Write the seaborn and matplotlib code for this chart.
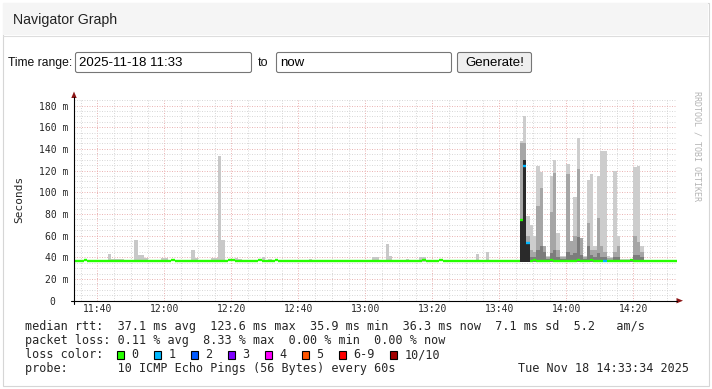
import numpy as np
import pandas as pd
import matplotlib
matplotlib.use("Agg")
import matplotlib.pyplot as plt
import seaborn as sns
from matplotlib.patches import Rectangle, FancyBboxPatch, Polygon

# ---------------- data ----------------
x_tick_pos = [7, 27, 47, 67, 87, 107, 127, 147, 167]          # minutes after 11:33
x_tick_labels = ["11:40", "12:00", "12:20", "12:40", "13:00",
                 "13:20", "13:40", "14:00", "14:20"]
y_tick_vals = [0, 20, 40, 60, 80, 100, 120, 140, 160, 180]   # ms
y_tick_labels = ["0  ", "20 m", "40 m", "60 m", "80 m", "100 m",
                 "120 m", "140 m", "160 m", "180 m"]

n_steps = 180                     # one step per minute, 11:33 .. 14:33
median_base = 36.6                # ms, flat median rtt
median_bump_steps = [3, 29, 46, 47, 55, 60, 104, 109, 137, 142, 150, 154, 166]
median_bump_vals = [37.8, 37.8, 37.8, 37.6, 37.8, 37.8, 37.6, 37.8,
                    37.8, 37.8, 37.6, 37.8, 37.8]
median_spike_steps = [133, 134, 135]
median_spike_vals = [74.0, 124.0, 53.0]
loss1_steps = [134, 135, 158]     # steps with 1/10 packet loss

smoke_min = 36.0
left_steps = [10, 11, 12, 13, 14, 18, 19, 20, 21, 26, 27, 35, 36, 41, 42,
              43, 44, 48, 49, 56, 58, 70, 89, 90, 93, 94, 99, 103, 104, 120, 123]
left_max = [43, 38.8, 38.8, 38.8, 38.8, 56, 42, 42, 39, 39, 39, 46.8, 39, 39, 39,
            133, 56, 39, 38.8, 40, 38.5, 38.5, 40, 40, 52.6, 41, 38.5, 40, 40, 43, 45]

dense_steps = list(range(133, 170))
dense_light = [147, 170, 78, 70, 60, 124, 119, 50, 41, 115, 130, 62, 41, 41, 126,
               55, 96, 150, 58, 41, 111, 117, 50, 115, 138, 138, 41, 40, 120, 60,
               38, 38, 38, 38, 123, 124, 50]
dense_mid = [145, 145, 60, 47, 45, 87, 104, 50, 40, 82, 118, 47, 40, 40, 117,
             55, 60, 121, 58, 40, 72, 47, 47, 76, 50, 45, 39, 39, 45, 50,
             37, 37, 37, 37, 60, 54, 45]
dense_dark = [74, 124, 53, 40, 40, 47, 50, 45, 38, 44, 47, 40, 38, 38, 45,
              42, 44, 59, 42, 38, 50, 42, 40, 44, 40, 40, 37, 37, 40, 40,
              37, 37, 37, 37, 42, 42, 40]
core_steps = [133, 134, 135]
core_vals = [74, 130, 53]

loss_labels = ["0", "1", "2", "3", "4", "5", "6-9", "10/10"]
loss_colors = ["#26ff00", "#00b8ff", "#0059ff", "#7e00ff", "#ff00ff",
               "#ff5500", "#ff0000", "#a10000"]

legend_lines = [
    "median rtt:  37.1 ms avg  123.6 ms max  35.9 ms min  36.3 ms now  7.1 ms sd  5.2   am/s",
    "packet loss: 0.11 % avg  8.33 % max  0.00 % min  0.00 % now",
    "loss color:",
    "probe:       10 ICMP Echo Pings (56 Bytes) every 60s",
]
stamp = "Tue Nov 18 14:33:34 2025"

# ---------------- style ----------------
sns.set_style("white")
plt.rcParams["font.family"] = ["DejaVu Sans Mono", "DejaVu Sans"]
MONO = "DejaVu Sans Mono"
SANS = ["Liberation Sans", "DejaVu Sans"]

W, H = 712, 389
fig = plt.figure(figsize=(W / 100, H / 100), dpi=100)
fig.patch.set_facecolor("white")

# page background (pixel coordinates)
bg = fig.add_axes([0, 0, 1, 1], zorder=0)
bg.set_xlim(0, W); bg.set_ylim(H, 0); bg.axis("off")
bg.add_patch(Rectangle((2.5, 2.5), 706, 383, facecolor="white", edgecolor="#d6d6d6", lw=0.8))
bg.add_patch(Rectangle((3, 3), 705, 32, facecolor="#f5f5f5", edgecolor="none"))
bg.plot([3, 708], [35.5, 35.5], color="#dddddd", lw=0.8)
bg.text(13, 19.5, "Navigator Graph", fontsize=10.2, family=SANS, va="center", color="#222222")
bg.text(8, 62.5, "Time range:", fontsize=8.7, family=SANS, va="center", color="#111111")
for (x0, x1) in [(75, 252), (276, 452)]:
    bg.add_patch(FancyBboxPatch((x0 + 0.5, 52.5), x1 - x0 - 1, 20, boxstyle="round,pad=0,rounding_size=2",
                                facecolor="white", edgecolor="#767676", lw=0.8))
bg.text(79, 62.5, "2025-11-18 11:33", fontsize=9.5, family=SANS, va="center", color="#000000")
bg.text(258, 62.5, "to", fontsize=9.0, family=SANS, va="center", color="#111111")
bg.text(280, 62.5, "now", fontsize=9.5, family=SANS, va="center", color="#000000")
bg.add_patch(FancyBboxPatch((457.5, 52.5), 74, 20, boxstyle="round,pad=0,rounding_size=2",
                            facecolor="#efefef", edgecolor="#767676", lw=0.8))
bg.text(494.5, 62.5, "Generate!", fontsize=9.5, family=SANS, va="center", ha="center", color="#000000")

bg.text(19, 199, "Seconds", rotation=90, fontsize=8.0, family=MONO, va="center", ha="center")
bg.text(697, 91, "RRDTOOL / TOBI OETIKER", rotation=270, fontsize=6.0, family=MONO,
        va="top", ha="center", color="#b4b4b4")

leg_y = [326.5, 340.5, 354.5, 368.7]
for txt, yy in zip(legend_lines, leg_y):
    bg.text(25, yy, txt, fontsize=8.5, family=MONO, va="center")
bg.text(689, leg_y[3], stamp, fontsize=8.5, family=MONO, va="center", ha="right")
box_x = [117 + 37 * i for i in range(7)] + [390]
for bx, lab, col in zip(box_x, loss_labels, loss_colors):
    bg.add_patch(Rectangle((bx, leg_y[2] - 4), 7, 8, facecolor=col, edgecolor="black", lw=0.8))
    bg.text(bx + 14.5, leg_y[2], lab, fontsize=8.5, family=MONO, va="center")

# ---------------- the graph ----------------
ax = fig.add_axes([74 / W, (H - 300.7) / H, 603 / W, 201.7 / H], zorder=2)
ax.set_facecolor("white")
ax.set_xlim(0, n_steps)
ax.set_ylim(0, 186)
for s in ax.spines.values():
    s.set_visible(False)

# smoke: isolated spikes
lb = np.array(left_steps)
lm = np.array(left_max, dtype=float)
ax.bar(lb, lm - smoke_min, bottom=smoke_min, width=1, align="edge", color="#c8c8c8", lw=0)
# smoke: busy period, shades from outer (light) to inner (dark)
ds = np.array(dense_steps)
for vals, col in [(dense_light, "#cdcdcd"), (dense_mid, "#a6a6a6"), (dense_dark, "#7c7c7c")]:
    v = np.array(vals, dtype=float)
    ax.bar(ds, v - smoke_min, bottom=smoke_min, width=1, align="edge", color=col, lw=0)
cv = np.array(core_vals, dtype=float)
ax.bar(np.array(core_steps), cv - smoke_min, bottom=smoke_min, width=1, align="edge",
       color="#2a2a2a", lw=0)

# median line coloured by loss
steps = np.arange(n_steps)
median = np.full(n_steps, median_base)
median[median_bump_steps] = median_bump_vals
median[median_spike_steps] = median_spike_vals
loss = np.zeros(n_steps, dtype=int)
loss[loss1_steps] = 1
seg = pd.DataFrame({
    "x": np.concatenate([steps, steps + 1]),
    "y": np.concatenate([median, median]),
    "loss": np.concatenate([loss, loss]),
    "step": np.concatenate([steps, steps]),
})
sns.lineplot(data=seg, x="x", y="y", hue="loss", units="step", estimator=None,
             palette={0: loss_colors[0], 1: loss_colors[1]}, legend=False,
             lw=1.7, solid_capstyle="butt", ax=ax, zorder=5)

# grid and ticks
ax.set_xticks(x_tick_pos, x_tick_labels)
ax.set_xticks(np.arange(2, n_steps, 5), minor=True)
ax.set_yticks(y_tick_vals, y_tick_labels)
ax.set_yticks(np.arange(0, 186, 5), minor=True)
ax.set_axisbelow(True)
ax.grid(which="minor", color="#d2d2d2", lw=0.6, ls=(0, (1.2, 1.8)))
ax.grid(which="major", color="#e8a8a8", lw=0.6, ls=(0, (1.2, 1.8)))
ax.tick_params(which="both", direction="inout", color="black", width=0.7, labelsize=7)
ax.tick_params(which="major", length=3)
ax.tick_params(which="minor", length=1.5)
ax.tick_params(axis="y", pad=2.8)
ax.tick_params(axis="x", pad=1.0)
ax.set_xlabel(""); ax.set_ylabel("")
for lab in ax.get_xticklabels() + ax.get_yticklabels():
    lab.set_family(MONO)

# axes lines + arrows (pixel coordinates)
ov = fig.add_axes([0, 0, 1, 1], zorder=4)
ov.set_xlim(0, W); ov.set_ylim(H, 0); ov.axis("off"); ov.patch.set_alpha(0)
ov.plot([74, 74], [303.5, 97], color="black", lw=0.8)
ov.plot([70.5, 677], [300.7, 300.7], color="black", lw=0.8)
ov.add_patch(Polygon([(74, 91.5), (71.3, 98), (76.7, 98)], closed=True, color="#8b1414", lw=0))
ov.add_patch(Polygon([(683, 300.7), (676.5, 298), (676.5, 303.4)], closed=True, color="#8b1414", lw=0))

fig.savefig("out.png", dpi=100)
